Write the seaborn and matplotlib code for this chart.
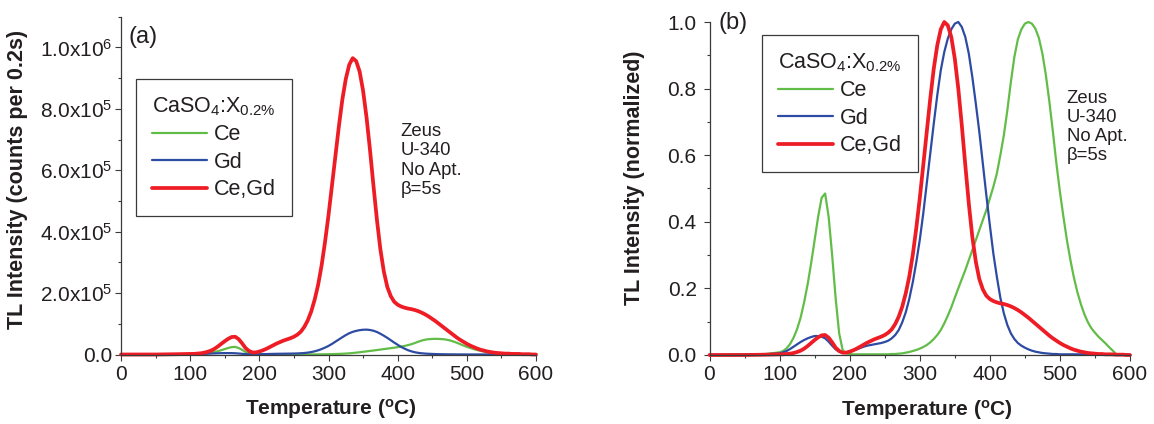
import numpy as np
import pandas as pd
import matplotlib
matplotlib.use("Agg")
import matplotlib.pyplot as plt
from matplotlib.ticker import FixedLocator, FixedFormatter, MultipleLocator
import seaborn as sns

# ---------------- data ----------------
# temperature grid (deg C): 0, 50, 80, then 100..600 every 5
temperature = np.concatenate([[0, 50, 80], np.arange(100, 605, 5)])

nan = np.nan
# normalized glow curves (panel b)
ce_norm = [0.0, 0.001, 0.003,
    0.008, 0.012, 0.020, 0.033, 0.052, 0.078, 0.112, 0.158, 0.212, 0.275,
    0.345, 0.415, 0.472, 0.485, 0.415, 0.300, 0.170, 0.065, 0.015, 0.005,
    0.003, 0.002, 0.002, 0.002, 0.002, 0.002, 0.002, 0.002, 0.002, 0.002,
    0.002, 0.002, 0.003, 0.003, 0.004, 0.005, 0.007, 0.009, 0.012, 0.015,
    0.019, 0.024, 0.030, 0.038, 0.048, 0.060, 0.075, 0.095, 0.118, 0.143,
    0.172, 0.200, 0.228, 0.255, 0.285, 0.315, 0.345, 0.375, 0.405, 0.435,
    0.470, 0.505, 0.545, 0.600, 0.660, 0.735, 0.820, 0.895, 0.948, 0.978,
    0.995, 1.000, 0.995, 0.980, 0.952, 0.905, 0.840, 0.760, 0.670, 0.575,
    0.490, 0.415, 0.345, 0.285, 0.232, 0.188, 0.152, 0.122, 0.098, 0.080,
    0.067, 0.055, 0.045, 0.035, 0.024, 0.014, 0.003, nan, nan, nan,
    nan]

gd_norm = [0.0, 0.001, 0.002,
    0.005, 0.008, 0.012, 0.018, 0.025, 0.032, 0.039, 0.045, 0.050, 0.054,
    0.057, 0.057, 0.055, 0.050, 0.040, 0.028, 0.017, 0.010, 0.007, 0.008,
    0.011, 0.014, 0.017, 0.021, 0.025, 0.028, 0.030, 0.032, 0.034, 0.036,
    0.039, 0.043, 0.050, 0.060, 0.075, 0.098, 0.128, 0.168, 0.218, 0.278,
    0.345, 0.425, 0.515, 0.605, 0.695, 0.780, 0.855, 0.910, 0.950, 0.978,
    0.995, 1.000, 0.985, 0.955, 0.905, 0.835, 0.755, 0.670, 0.575, 0.480,
    0.390, 0.305, 0.235, 0.172, 0.125, 0.090, 0.065, 0.048, 0.036, 0.028,
    0.022, 0.017, 0.013, 0.010, 0.008, 0.006, 0.005, 0.004, 0.003, 0.003,
    0.002, 0.002, 0.002, 0.002, 0.002, 0.002, 0.002, 0.002, 0.002, 0.002,
    0.001, 0.001, 0.001, 0.001, 0.001, 0.001, 0.001, 0.001, 0.001, 0.001,
    0.0]

cegd_norm = [0.0, 0.0, 0.001,
    0.002, 0.002, 0.003, 0.004, 0.006, 0.009, 0.013, 0.019, 0.027, 0.036,
    0.045, 0.053, 0.059, 0.060, 0.052, 0.038, 0.022, 0.012, 0.007, 0.007,
    0.010, 0.014, 0.019, 0.025, 0.031, 0.037, 0.042, 0.047, 0.051, 0.055,
    0.060, 0.067, 0.077, 0.093, 0.115, 0.145, 0.185, 0.235, 0.300, 0.380,
    0.470, 0.570, 0.670, 0.770, 0.860, 0.930, 0.978, 1.000, 0.990, 0.955,
    0.890, 0.800, 0.690, 0.570, 0.455, 0.355, 0.280, 0.228, 0.197, 0.178,
    0.168, 0.162, 0.158, 0.155, 0.153, 0.150, 0.146, 0.141, 0.135, 0.128,
    0.120, 0.112, 0.103, 0.094, 0.085, 0.076, 0.067, 0.058, 0.050, 0.043,
    0.036, 0.030, 0.025, 0.020, 0.016, 0.013, 0.010, 0.008, 0.006, 0.005,
    0.004, 0.003, 0.003, 0.002, 0.002, 0.002, 0.001, 0.001, 0.001, 0.000,
    0.0]

# peak intensities (counts per 0.2 s) for panel a
peak_counts = {"Ce": 5.1e4, "Gd": 8.1e4, "Ce,Gd": 9.65e5}

series_names = ["Ce", "Gd", "Ce,Gd"]
series_norm = {"Ce": ce_norm, "Gd": gd_norm, "Ce,Gd": cegd_norm}

x_ticks = [0, 100, 200, 300, 400, 500, 600]
ya_ticks = [0, 2e5, 4e5, 6e5, 8e5, 1e6]
ya_labels = ["0.0", "2.0x10$^{5}$", "4.0x10$^{5}$", "6.0x10$^{5}$",
             "8.0x10$^{5}$", "1.0x10$^{6}$"]
yb_ticks = [0.0, 0.2, 0.4, 0.6, 0.8, 1.0]
yb_labels = ["0.0", "0.2", "0.4", "0.6", "0.8", "1.0"]

legend_title = "CaSO$_{4}$:X$_{0.2\\%}$"
note_text = "Zeus\nU-340\nNo Apt.\n\u03b2=5s"

# ---------------- style ----------------
sns.set_theme(style="ticks")
plt.rcParams["font.family"] = ["Liberation Sans", "DejaVu Sans"]
plt.rcParams["mathtext.default"] = "regular"
TXT = "#231f20"
AX = "#3a3a3a"
plt.rcParams["text.color"] = TXT
plt.rcParams["axes.labelcolor"] = TXT
plt.rcParams["xtick.color"] = AX
plt.rcParams["ytick.color"] = AX
plt.rcParams["xtick.labelcolor"] = TXT
plt.rcParams["ytick.labelcolor"] = TXT

colors = {"Ce": "#62bd48", "Gd": "#2d4ba2", "Ce,Gd": "#ee1c25"}
widths = {"Ce": 1.6, "Gd": 1.6, "Ce,Gd": 2.7}

rows = []
for name in series_names:
    vals = np.asarray(series_norm[name], dtype=float)
    for t, v in zip(temperature, vals):
        rows.append({"T": t, "series": name, "norm": v,
                     "counts": v * peak_counts[name]})
df = pd.DataFrame(rows).dropna()

W, H = 1154, 424
fig = plt.figure(figsize=(W / 100, H / 100), dpi=100)
ax1 = fig.add_axes([121 / W, (H - 354.5) / H, 415 / W, 337.8 / H])
ax2 = fig.add_axes([709.5 / W, (H - 355) / H, 420.5 / W, 333 / H])

for ax, col in [(ax1, "counts"), (ax2, "norm")]:
    for name in series_names:
        sub = df[df["series"] == name]
        sns.lineplot(data=sub, x="T", y=col, ax=ax, color=colors[name],
                     linewidth=widths[name], label=name, estimator=None,
                     sort=False, legend=False, clip_on=False)

def style_axes(ax, yticks, ylabels, ylim, yminor, ypad):
    ax.set_xlim(0, 600)
    ax.set_ylim(*ylim)
    ax.xaxis.set_major_locator(FixedLocator(x_ticks))
    ax.xaxis.set_major_formatter(FixedFormatter([str(v) for v in x_ticks]))
    ax.xaxis.set_minor_locator(MultipleLocator(50))
    ax.yaxis.set_major_locator(FixedLocator(yticks))
    ax.yaxis.set_major_formatter(FixedFormatter(ylabels))
    ax.yaxis.set_minor_locator(MultipleLocator(yminor))
    for s in ["top", "right"]:
        ax.spines[s].set_visible(False)
    for s in ["left", "bottom"]:
        ax.spines[s].set_color(AX)
        ax.spines[s].set_linewidth(0.9)
    ax.tick_params(which="major", direction="out", length=4.2, width=0.8,
                   labelsize=15)
    ax.tick_params(which="minor", direction="out", length=2.4, width=0.8)
    ax.tick_params(axis="x", which="major", pad=3)
    ax.tick_params(axis="y", which="major", pad=ypad)
    ax.set_xlabel("Temperature ($^{o}$C)", fontsize=15, fontweight="bold")

style_axes(ax1, ya_ticks, ya_labels, (0, 1.1e6), 1e5, 2.0)
style_axes(ax2, yb_ticks, yb_labels, (0, 1.0), 0.1, 5.0)
ax1.xaxis.set_label_coords(0.505, -0.127)
ax2.xaxis.set_label_coords(0.518, -0.128)

ax1.set_ylabel("TL Intensity (counts per 0.2s)", fontsize=15.5,
               fontweight="bold")
ax1.yaxis.set_label_coords(-0.224, 0.518)
ax2.set_ylabel("TL Intensity (normalized)", fontsize=15.5, fontweight="bold")
ax2.yaxis.set_label_coords(-0.153, 0.533)

# legends
for ax, anchor in [(ax1, (0.036, 0.8156)), (ax2, (0.1249, 0.961))]:
    h, l = ax.get_legend_handles_labels()
    leg = ax.legend(h, l, title=legend_title, loc="upper left",
                    bbox_to_anchor=anchor, borderaxespad=0, frameon=True,
                    fancybox=False, shadow=False, framealpha=1,
                    edgecolor=AX, fontsize=15.5, title_fontsize=15.5,
                    handlelength=2.55, handletextpad=0.3, labelspacing=0.3,
                    borderpad=0.75, alignment="left")
    leg.get_frame().set_linewidth(0.9)
    leg.get_title().set_color(TXT)

# annotations
ax1.text(0.674, 0.685, note_text, transform=ax1.transAxes, ha="left",
         va="top", fontsize=13.3, linespacing=1.17)
ax2.text(0.849, 0.797, note_text, transform=ax2.transAxes, ha="left",
         va="top", fontsize=13.3, linespacing=1.17)
ax1.text(0.017, 0.941, "(a)", transform=ax1.transAxes, ha="left",
         va="center", fontsize=17)
ax2.text(0.021, 0.996, "(b)", transform=ax2.transAxes, ha="left",
         va="center", fontsize=17)

fig.savefig("out.png", dpi=100)
